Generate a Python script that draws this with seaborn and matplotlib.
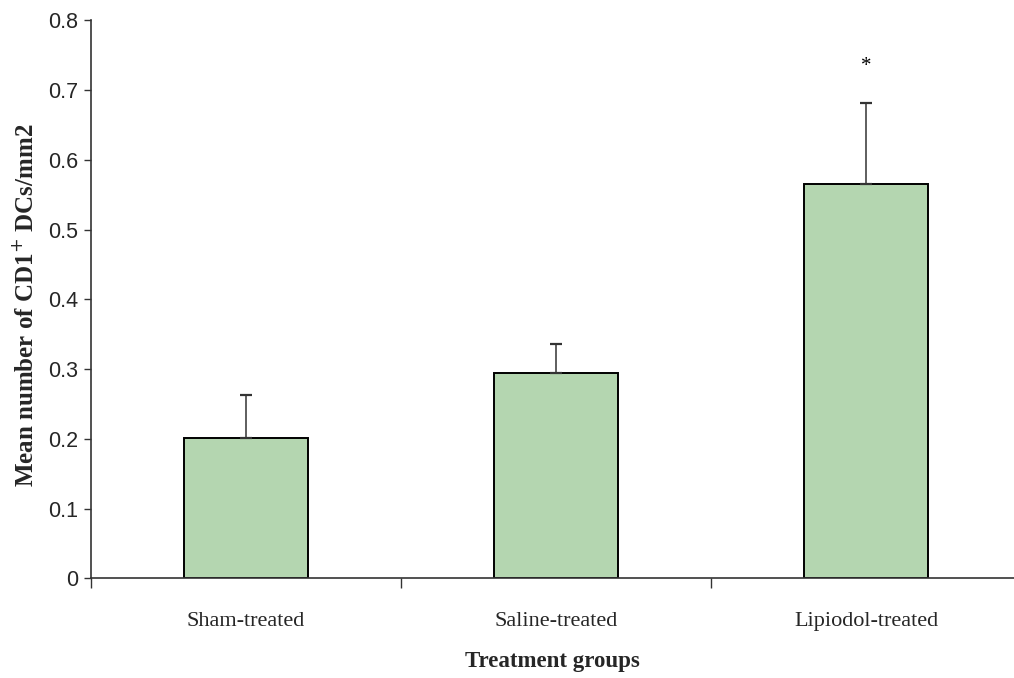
import matplotlib
matplotlib.use("Agg")
import matplotlib.pyplot as plt
import seaborn as sns
import pandas as pd
import numpy as np

# Mean CD1+ dendritic cell density per treatment group, with SEM
groups = ["Sham-treated", "Saline-treated", "Lipiodol-treated"]
means = [0.201, 0.295, 0.566]
errors = [0.062, 0.041, 0.116]
y_ticks = [0, 0.1, 0.2, 0.3, 0.4, 0.5, 0.6, 0.7, 0.8]
y_tick_labels = ["0", "0.1", "0.2", "0.3", "0.4", "0.5", "0.6", "0.7", "0.8"]
significant = ["", "", "*"]
star_level = 0.728

sns.set_style("white")
plt.rcParams["font.family"] = ["Liberation Serif", "DejaVu Serif"]

df = pd.DataFrame({"group": groups, "mean": means})

fig = plt.figure(figsize=(10.14, 6.78), dpi=100)
ax = fig.add_axes([0.0897, 0.147, 0.9103, 0.823])

sns.barplot(data=df, x="group", y="mean", color="#b4d6b0", saturation=1,
            width=0.40, edgecolor="black", linewidth=1.4, errorbar=None, ax=ax)

# upper-only error bars
xs = np.arange(len(groups))
ax.errorbar(xs, means, yerr=[np.zeros(len(groups)), errors], fmt="none",
            ecolor="#333333", elinewidth=1.1, capsize=4, capthick=1.6)

for x, lab in zip(xs, significant):
    if lab:
        ax.text(x, star_level, lab, ha="center", va="baseline",
                fontsize=15, color="black")

ax.set_xlim(-0.5, 2.477)
ax.set_ylim(0, 0.8)

ax.set_yticks(y_ticks)
ax.set_yticklabels(y_tick_labels, family="Liberation Sans", fontsize=15.5)

# category labels centred, tick marks at the category boundaries
ax.set_xticks(xs)
ax.set_xticklabels(groups, fontsize=16)
ax.tick_params(axis="x", which="major", length=0, pad=24)
ax.set_xticks([-0.5, 0.5, 1.5], minor=True)
ax.tick_params(axis="x", which="minor", direction="out", length=7,
               width=1, color="#333333", bottom=True)
ax.tick_params(axis="y", direction="out", length=5, width=1,
               color="#333333", left=True, pad=4)

for side in ["top", "right"]:
    ax.spines[side].set_visible(False)
for side in ["left", "bottom"]:
    ax.spines[side].set_color("#333333")
    ax.spines[side].set_linewidth(1.2)

ax.set_ylabel("Mean number of CD1$^{+}$ DCs/mm2", fontsize=18,
              fontweight="bold", va="center")
ax.yaxis.set_label_coords(-0.071, 0.49)
ax.set_xlabel("Treatment groups", fontsize=16.5, fontweight="bold", va="top")
ax.xaxis.set_label_coords(0.5, -0.13)

fig.savefig("out.png", dpi=100)
